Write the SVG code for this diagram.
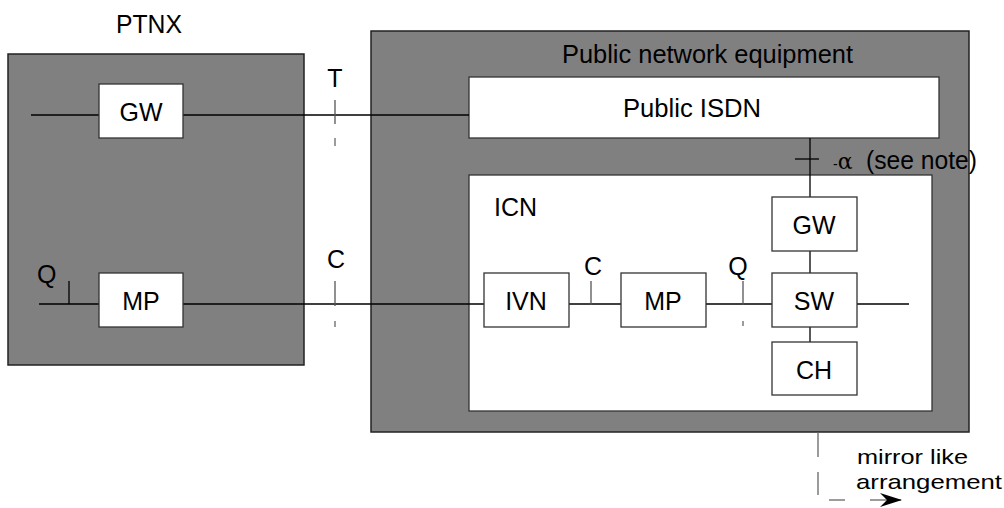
<svg xmlns="http://www.w3.org/2000/svg" width="1004" height="508" viewBox="0 0 1004 508">
  <style>
    .area { fill: #808080; stroke: #222; stroke-width: 1.5; }
    .box { fill: #fff; stroke: #333; stroke-width: 1.3; }
    .lbl { font-family: "Liberation Sans", Arial, sans-serif; font-size: 25px; fill: #000; }
    .note { font-size: 21px; }
    .mid { text-anchor: middle; }
    .wire { stroke: #000; stroke-width: 1.3; fill: none; }
    .tick { stroke: #555; stroke-width: 1.3; fill: none; }
    .dash { stroke: #666; stroke-width: 1.3; fill: none; }
  </style>
  <defs>
    <marker id="arrow" markerWidth="22" markerHeight="14" refX="21" refY="7" orient="auto" markerUnits="userSpaceOnUse">
      <path d="M0,0 L22,7 L0,14 L7,7 Z" fill="#000"/>
    </marker>
  </defs>
  <rect width="1004" height="508" fill="#fff"/>

  <!-- PTNX enclosure -->
  <g id="ptnx">
    <rect class="area" x="8" y="54" width="296" height="311"/>
    <text class="lbl" x="116" y="33" textLength="66" lengthAdjust="spacingAndGlyphs">PTNX</text>
  </g>

  <!-- public network equipment enclosure -->
  <g id="public-equipment">
    <rect class="area" x="371" y="31" width="598" height="401"/>
    <text class="lbl" x="562" y="63" textLength="291" lengthAdjust="spacingAndGlyphs">Public network equipment</text>
  </g>

  <g id="public-isdn">
    <rect class="box" x="469" y="77" width="470" height="61"/>
    <text class="lbl" x="623" y="117" textLength="138" lengthAdjust="spacingAndGlyphs">Public ISDN</text>
  </g>

  <g id="icn">
    <rect class="box" x="469" y="175" width="463" height="236"/>
    <text class="lbl" x="494" y="216">ICN</text>
  </g>

  <!-- connectors -->
  <g id="connectors">
    <!-- PTNX GW line to public ISDN -->
    <line class="wire" x1="31" y1="115" x2="99" y2="115"/>
    <line class="wire" x1="183" y1="115" x2="469" y2="115"/>
    <!-- PTNX MP line to IVN -->
    <line class="wire" x1="39" y1="304" x2="99" y2="304"/>
    <line class="wire" x1="183" y1="304" x2="484" y2="304"/>
    <line class="wire" x1="69" y1="281" x2="69" y2="304"/>
    <!-- T reference point -->
    <line class="tick" x1="335" y1="100" x2="335" y2="124"/>
    <line class="dash" x1="335" y1="138" x2="335" y2="146"/>
    <!-- C reference point -->
    <line class="tick" x1="335" y1="281" x2="335" y2="306"/>
    <line class="dash" x1="335" y1="321" x2="335" y2="327"/>
    <!-- ISDN to GW, alpha reference point -->
    <line class="wire" x1="810" y1="138" x2="810" y2="197"/>
    <line class="wire" x1="795" y1="159" x2="819" y2="159"/>
    <!-- inside ICN -->
    <line class="wire" x1="569" y1="304" x2="621" y2="304"/>
    <line class="tick" x1="591" y1="281" x2="591" y2="305"/>
    <line class="wire" x1="706" y1="304" x2="772" y2="304"/>
    <line class="tick" x1="743" y1="281" x2="743" y2="305"/>
    <line class="dash" x1="743" y1="321" x2="743" y2="326"/>
    <line class="wire" x1="810" y1="251" x2="810" y2="273"/>
    <line class="wire" x1="810" y1="327" x2="810" y2="342"/>
    <line class="wire" x1="856" y1="304" x2="909" y2="304"/>
    <!-- mirror arrangement -->
    <line class="dash" x1="818" y1="432" x2="818" y2="457"/>
    <line class="dash" x1="818" y1="472" x2="818" y2="495"/>
    <line class="dash" x1="829" y1="500" x2="845" y2="500"/>
    <line class="dash" x1="870" y1="500" x2="901" y2="500" marker-end="url(#arrow)"/>
  </g>

  <g id="ptnx-gw">
    <rect class="box" x="99" y="84" width="84" height="54"/>
    <text class="lbl mid" x="141" y="121">GW</text>
  </g>
  <g id="ptnx-mp">
    <rect class="box" x="99" y="273" width="84" height="54"/>
    <text class="lbl mid" x="141" y="310">MP</text>
  </g>
  <g id="icn-ivn">
    <rect class="box" x="484" y="273" width="85" height="54"/>
    <text class="lbl mid" x="526" y="310">IVN</text>
  </g>
  <g id="icn-mp">
    <rect class="box" x="621" y="273" width="85" height="54"/>
    <text class="lbl mid" x="663" y="310">MP</text>
  </g>
  <g id="icn-gw">
    <rect class="box" x="772" y="197" width="85" height="54"/>
    <text class="lbl mid" x="814" y="234">GW</text>
  </g>
  <g id="icn-sw">
    <rect class="box" x="772" y="273" width="85" height="54"/>
    <text class="lbl mid" x="814" y="310">SW</text>
  </g>
  <g id="icn-ch">
    <rect class="box" x="772" y="342" width="85" height="53"/>
    <text class="lbl mid" x="814" y="379">CH</text>
  </g>

  <!-- reference point labels -->
  <g id="labels">
    <text class="lbl" x="37" y="283">Q</text>
    <text class="lbl mid" x="335" y="87">T</text>
    <text class="lbl mid" x="336" y="268">C</text>
    <text class="lbl mid" x="593" y="275">C</text>
    <text class="lbl mid" x="738" y="275">Q</text>
    <text class="lbl" x="833" y="169"><tspan font-size="14">-</tspan><tspan font-family="'DejaVu Serif', serif" font-size="22">α</tspan><tspan x="866" textLength="111" lengthAdjust="spacingAndGlyphs">(see note)</tspan></text>
    <text class="lbl note" x="857" y="464" textLength="111" lengthAdjust="spacingAndGlyphs">mirror like</text>
    <text class="lbl note" x="856" y="489" textLength="146" lengthAdjust="spacingAndGlyphs">arrangement</text>
  </g>
</svg>
